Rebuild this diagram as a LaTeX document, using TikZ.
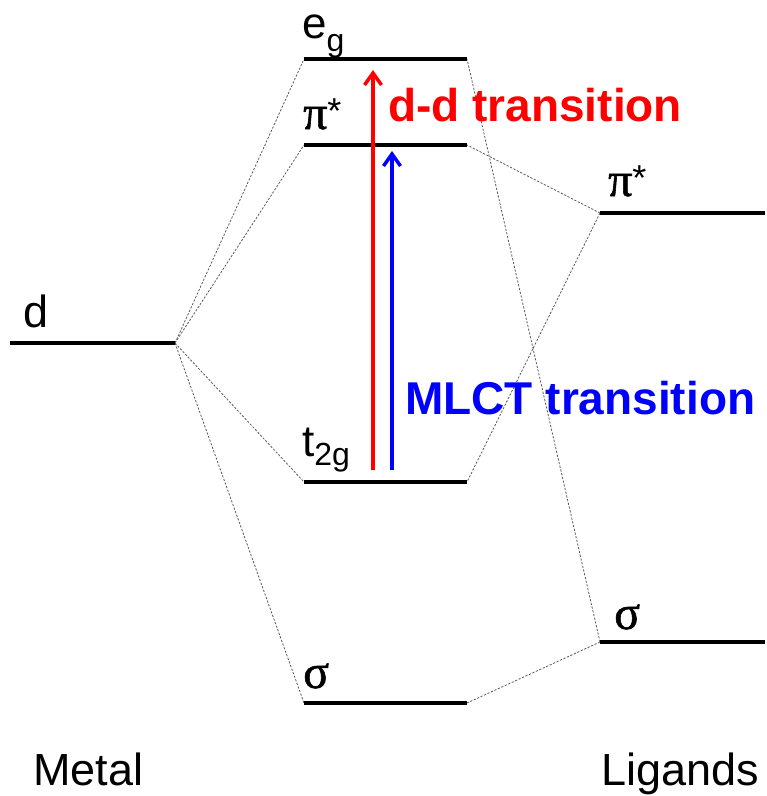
\documentclass[tikz,border=0pt]{standalone}
\usepackage{fontspec}
\setmainfont{Liberation Sans}
\newfontfamily\grk[FakeBold=1.2]{Liberation Serif}
\usetikzlibrary{arrows.meta}
\begin{document}
\begin{tikzpicture}[x=1pt,y=-1pt,
  level/.style={line width=3.4pt, line cap=butt},
  conn/.style={black!65, line width=0.8pt, dash pattern=on 2.2pt off 1.6pt},
  lbl/.style={inner sep=0pt, anchor=base west, font=\fontsize{44}{48}\selectfont},
  greek/.style={inner sep=0pt, anchor=base west, font=\fontsize{48}{52}\selectfont\grk},
  big/.style={inner sep=0pt, anchor=base west, font=\fontsize{45}{54}\selectfont},
  trans/.style={inner sep=0pt, anchor=base west, font=\fontsize{46}{54}\selectfont\bfseries},
  updarrow/.style={line width=3.5pt, -{Straight Barb[length=12pt,width=17pt]}}]
\useasboundingbox (0,0) rectangle (767,796);
% level end points
\coordinate (dL) at (10,343);  \coordinate (dR) at (175,343);
\coordinate (egL) at (304,59); \coordinate (egR) at (467,59);
\coordinate (pmL) at (304,145); \coordinate (pmR) at (467,145);
\coordinate (tL) at (304,482); \coordinate (tR) at (467,482);
\coordinate (smL) at (304,703); \coordinate (smR) at (467,703);
\coordinate (prL) at (600,213); \coordinate (prR) at (765,213);
\coordinate (srL) at (600,642); \coordinate (srR) at (765,642);
% correlation lines
\draw[conn] (dR) -- (egL);
\draw[conn] (dR) -- (pmL);
\draw[conn] (dR) -- (tL);
\draw[conn] (dR) -- (smL);
\draw[conn] (prL) -- (pmR);
\draw[conn] (prL) -- (tR);
\draw[conn] (srL) -- (smR);
\draw[conn] (srL) -- (egR);
% levels
\draw[level] (dL) -- (dR);
\draw[level] (egL) -- (egR);
\draw[level] (pmL) -- (pmR);
\draw[level] (tL) -- (tR);
\draw[level] (smL) -- (smR);
\draw[level] (prL) -- (prR);
\draw[level] (srL) -- (srR);
% transitions
\coordinate (redS) at (373,470); \coordinate (redE) at (373,70);
\coordinate (bluS) at (392,470); \coordinate (bluE) at (392,151);
\draw[updarrow, red] (redS) -- (redE);
\draw[updarrow, blue] (bluS) -- (bluE);
% labels
\node[big] (dlab) at (23,327) {d};
\node[lbl] (eglab) at (302,38) {e\raisebox{-13pt}{\fontsize{32}{34}\selectfont g}};
\node[greek] (pmlab) at (303,129) {π\raisebox{6pt}{\fontsize{36}{38}\selectfont\rmfamily *}};
\node[lbl] (tlab) at (302,456) {t\raisebox{-9pt}{\fontsize{32}{34}\selectfont 2g}};
\node[greek] (smlab) at (303,688) {σ};
\node[greek] (prlab) at (608,196) {π\raisebox{6pt}{\fontsize{36}{38}\selectfont\rmfamily *}};
\node[greek] (srlab) at (614,629) {σ};
\node[trans, text=red] (ddlab) at (388,121) {d-d transition};
\node[trans, text=blue] (mlctlab) at (405,414) {MLCT transition};
\node[big] (metal) at (33,785) {Metal};
\node[big] (lig) at (601,785) {Ligands};
\end{tikzpicture}
\end{document}
